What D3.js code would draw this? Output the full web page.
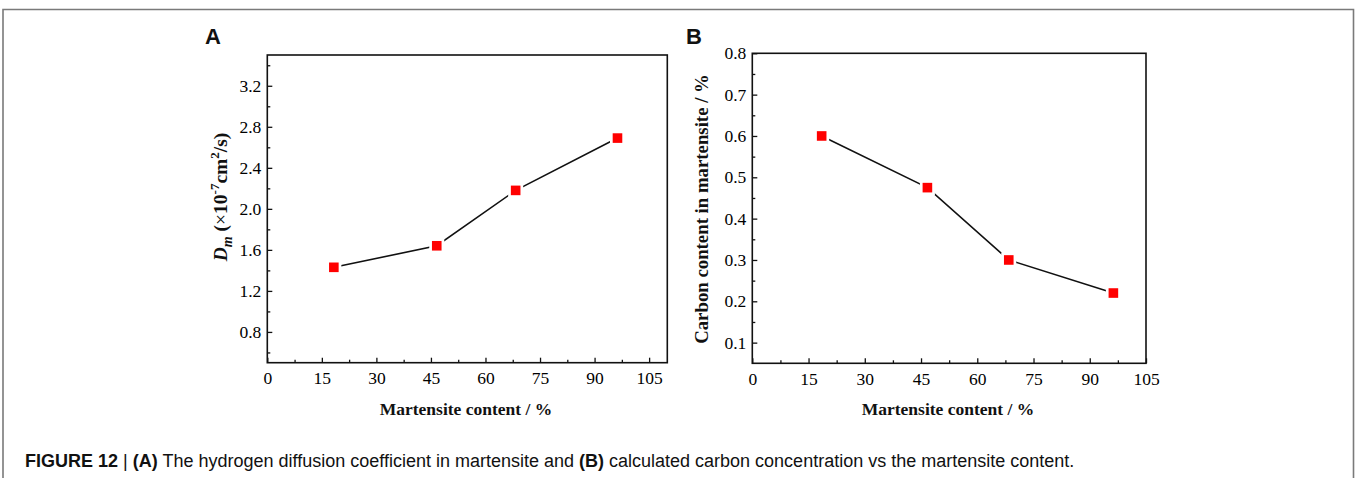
<!DOCTYPE html>
<html>
<head>
<meta charset="utf-8">
<script src="https://cdn.jsdelivr.net/npm/d3@7"></script>
<style>
  body { margin: 0; background: #fff; }
  svg { display: block; }
</style>
</head>
<body>
<script>
// Panel A data
const martensiteA = [18.3, 46.6, 68.3, 96.3];
const diffusionA = [1.43, 1.64, 2.18, 2.69];
const xTicksA = [0, 15, 30, 45, 60, 75, 90, 105];
const yTicksA = [0.8, 1.2, 1.6, 2.0, 2.4, 2.8, 3.2];

// Panel B data
const martensiteB = [18.5, 46.7, 68.4, 96.3];
const carbonB = [0.60, 0.475, 0.30, 0.22];
const xTicksB = [0, 15, 30, 45, 60, 75, 90, 105];
const yTicksB = [0.1, 0.2, 0.3, 0.4, 0.5, 0.6, 0.7, 0.8];

const WIDTH = 1355;
const HEIGHT = 478;
const SERIF = "'Liberation Serif', 'Times New Roman', serif";
const SANS = "'Liberation Sans', Arial, Helvetica, sans-serif";

const svg = d3.select("body").append("svg")
    .attr("width", WIDTH)
    .attr("height", HEIGHT)
    .attr("viewBox", [0, 0, WIDTH, HEIGHT]);

// Outer figure frame (open at bottom)
svg.append("path")
    .attr("d", `M 3 ${HEIGHT} L 3 9.5 L 1353.5 9.5 L 1353.5 ${HEIGHT}`)
    .style("fill", "none")
    .style("stroke", "#7a7a7a")
    .style("stroke-width", 1.6);

function drawPanel(opts) {
    const g = svg.append("g");
    const x = d3.scaleLinear().domain(opts.xDomain).range([opts.left, opts.right]);
    const y = d3.scaleLinear().domain(opts.yDomain).range([opts.bottom, opts.top]);

    // minor ticks
    g.append("g")
        .attr("transform", `translate(0,${opts.bottom})`)
        .call(d3.axisBottom(x).tickValues(opts.xMinor).tickSizeInner(-3).tickSizeOuter(0).tickFormat(""))
        .call(a => a.select(".domain").remove());
    g.append("g")
        .attr("transform", `translate(${opts.left},0)`)
        .call(d3.axisLeft(y).tickValues(opts.yMinor).tickSizeInner(-3).tickSizeOuter(0).tickFormat(""))
        .call(a => a.select(".domain").remove());

    // major ticks
    const xa = g.append("g")
        .attr("transform", `translate(0,${opts.bottom})`)
        .call(d3.axisBottom(x).tickValues(opts.xTicks).tickSizeInner(-5).tickSizeOuter(0).tickPadding(9).tickFormat(d3.format("d")));
    xa.select(".domain").remove();
    xa.selectAll("text").style("font-family", SERIF).style("font-size", "17.5px").attr("fill", "#000");

    const ya = g.append("g")
        .attr("transform", `translate(${opts.left},0)`)
        .call(d3.axisLeft(y).tickValues(opts.yTicks).tickSizeInner(-5).tickSizeOuter(0).tickPadding(6).tickFormat(d3.format(".1f")));
    ya.select(".domain").remove();
    ya.selectAll("text").style("font-family", SERIF).style("font-size", "17.5px").attr("fill", "#000");

    g.selectAll(".tick line").style("stroke", "#111").style("stroke-width", 1.3);

    // frame
    g.append("rect")
        .attr("x", opts.left)
        .attr("y", opts.top)
        .attr("width", opts.right - opts.left)
        .attr("height", opts.bottom - opts.top)
        .style("fill", "none")
        .style("stroke", "#111")
        .style("stroke-width", 1.6);

    // line
    const pts = opts.xs.map((d, i) => [d, opts.ys[i]]);
    g.append("path")
        .datum(pts)
        .attr("d", d3.line().x(d => x(d[0])).y(d => y(d[1])))
        .style("fill", "none")
        .style("stroke", "#111")
        .style("stroke-width", 1.6);

    // markers with white halo
    g.selectAll(".halo").data(pts).join("rect")
        .attr("x", d => x(d[0]) - 7.5)
        .attr("y", d => y(d[1]) - 7.5)
        .attr("width", 15)
        .attr("height", 15)
        .style("fill", "#fff");
    g.selectAll(".mark").data(pts).join("rect")
        .attr("x", d => x(d[0]) - 4.8)
        .attr("y", d => y(d[1]) - 4.8)
        .attr("width", 9.6)
        .attr("height", 9.6)
        .style("fill", "#f00");

    // x label
    g.append("text")
        .text("Martensite content / %")
        .attr("x", opts.xLabelX)
        .attr("y", 415)
        .attr("text-anchor", "middle")
        .style("font-family", SERIF)
        .style("font-size", "17.5px")
        .style("font-weight", "bold")
        .attr("fill", "#111");

    // panel letter
    g.append("text")
        .text(opts.letter)
        .attr("x", opts.letterX)
        .attr("y", 44)
        .style("font-family", SANS)
        .style("font-size", "22px")
        .style("font-weight", "bold")
        .attr("fill", "#111");

    return g;
}

const gA = drawPanel({
    left: 267.3, right: 667.3, top: 55, bottom: 362.7,
    xDomain: [0, 110], yDomain: [0.5, 3.5],
    xTicks: xTicksA, yTicks: yTicksA,
    xMinor: d3.range(7.5, 110, 15),
    yMinor: d3.range(0.6, 3.5, 0.4),
    xs: martensiteA, ys: diffusionA,
    xLabelX: 466, letter: "A", letterX: 205
});

const gB = drawPanel({
    left: 752.3, right: 1146, top: 53.3, bottom: 363.3,
    xDomain: [0, 105], yDomain: [0.05, 0.8],
    xTicks: xTicksB, yTicks: yTicksB,
    xMinor: d3.range(7.5, 105, 15),
    yMinor: d3.range(0.15, 0.8, 0.1),
    xs: martensiteB, ys: carbonB,
    xLabelX: 948, letter: "B", letterX: 686
});

// y label A: D_m (x10^-7 cm^2/s)
const labA = gA.append("text")
    .attr("transform", "translate(227,197) rotate(-90)")
    .attr("text-anchor", "middle")
    .style("font-family", SERIF)
    .style("font-size", "19.5px")
    .style("font-weight", "bold")
    .attr("fill", "#111");
labA.append("tspan").text("D").style("font-style", "italic");
labA.append("tspan").text("m").style("font-style", "italic").style("font-size", "14px").attr("dy", 5);
labA.append("tspan").text("  (").attr("dy", -5);
labA.append("tspan").text("×").style("font-weight", "normal");
labA.append("tspan").text("10");
labA.append("tspan").text("-7").style("font-size", "13px").attr("dy", -8);
labA.append("tspan").text("cm").attr("dy", 8);
labA.append("tspan").text("2").style("font-size", "13px").attr("dy", -8);
labA.append("tspan").text("/s)").attr("dy", 8);

// y label B
gB.append("text")
    .text("Carbon content in martensite / %")
    .attr("transform", "translate(708,209) rotate(-90)")
    .attr("text-anchor", "middle")
    .style("font-family", SERIF)
    .style("font-size", "18.8px")
    .style("font-weight", "bold")
    .attr("fill", "#111");

// caption
const cap = svg.append("text")
    .attr("x", 25)
    .attr("y", 467)
    .style("font-family", SANS)
    .style("font-size", "18px")
    .attr("fill", "#111");
cap.append("tspan").text("FIGURE 12").style("font-weight", "bold");
cap.append("tspan").text(" | ");
cap.append("tspan").text("(A)").style("font-weight", "bold");
cap.append("tspan").text(" The hydrogen diffusion coefficient in martensite and ");
cap.append("tspan").text("(B)").style("font-weight", "bold");
cap.append("tspan").text(" calculated carbon concentration vs the martensite content.");
</script>
</body>
</html>
